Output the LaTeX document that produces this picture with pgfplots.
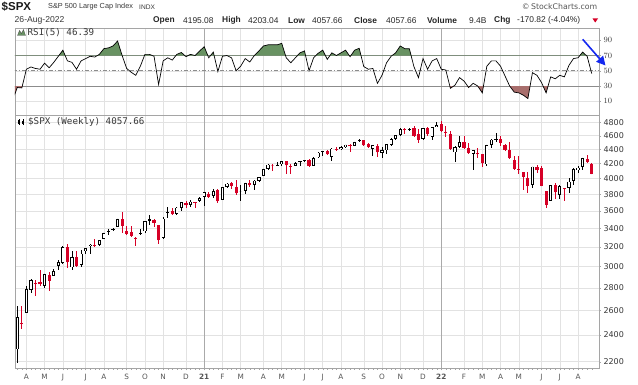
\documentclass[border=0pt]{standalone}
\usepackage{fontspec}
\setmainfont{Liberation Sans}
\newfontfamily\dv{DejaVu Sans}
\newfontfamily\dvm{DejaVu Sans Mono}
\usepackage{pgfplots}
\pgfplotsset{compat=1.18}
\usepackage{pgfplotstable}
\usetikzlibrary{arrows.meta}
\definecolor{cred}{RGB}{214,0,38}
\definecolor{gridc}{RGB}{226,226,226}
\definecolor{yearc}{RGB}{170,170,170}
\definecolor{framec}{RGB}{165,165,165}
\definecolor{refc}{RGB}{140,140,140}
\definecolor{rsig}{RGB}{104,146,98}
\definecolor{rsir}{RGB}{168,110,108}
\definecolor{txt}{RGB}{55,55,55}
\definecolor{txtl}{RGB}{85,85,85}
\definecolor{arrowblue}{RGB}{20,40,240}

\pgfplotstableread{
i O H L C k
0 2290.71 2637.01 2191.86 2541.47 0
1 2498.08 2641.39 2447.49 2488.65 1
2 2578.28 2818.57 2575.00 2789.82 0
3 2782.46 2879.22 2749.00 2874.56 0
4 2845.62 2868.98 2727.10 2836.74 1
5 2854.65 2964.95 2816.00 2830.71 1
6 2815.01 2933.00 2797.85 2929.80 0
7 2915.46 2945.00 2766.64 2863.70 1
8 2913.86 2981.00 2913.86 2955.45 0
9 3004.08 3068.67 2969.95 3044.31 0
10 3038.78 3211.72 3025.84 3193.93 0
11 3199.92 3233.13 2984.47 3041.31 1
12 2993.76 3155.53 2965.66 3097.74 0
13 3094.42 3154.00 3004.63 3009.05 1
14 3018.59 3165.81 3000.07 3130.01 0
15 3155.29 3184.00 3128.00 3185.04 0
16 3205.08 3235.32 3128.00 3224.73 0
17 3224.29 3279.32 3200.00 3215.63 1
18 3219.84 3272.00 3205.00 3271.12 0
19 3288.26 3352.00 3284.53 3351.28 0
20 3356.04 3387.89 3327.00 3372.85 0
21 3380.86 3399.96 3366.00 3397.16 0
22 3419.00 3509.44 3410.00 3508.01 0
23 3507.44 3588.11 3349.63 3426.96 1
24 3371.00 3426.00 3330.00 3340.97 1
25 3364.00 3425.00 3310.00 3319.47 1
26 3285.57 3306.88 3209.45 3298.46 1
27 3336.00 3397.00 3323.00 3348.44 0
28 3367.00 3483.00 3354.00 3477.14 0
29 3500.00 3550.00 3440.00 3483.81 0
30 3493.00 3502.00 3415.00 3465.39 1
31 3441.42 3441.42 3233.94 3269.96 1
32 3296.20 3529.00 3279.74 3509.44 0
33 3583.04 3645.99 3511.91 3585.15 0
34 3600.16 3628.51 3552.00 3557.54 1
35 3566.82 3644.00 3555.00 3638.35 0
36 3634.18 3699.20 3594.00 3699.12 0
37 3694.73 3712.39 3633.00 3663.46 1
38 3675.00 3726.70 3647.00 3709.41 0
39 3694.00 3711.00 3636.48 3703.06 1
40 3723.03 3760.20 3700.00 3756.07 0
41 3764.61 3826.69 3662.71 3824.68 0
42 3803.14 3823.00 3750.00 3768.25 1
43 3782.00 3861.45 3750.00 3841.47 0
44 3851.68 3870.90 3694.12 3714.24 1
45 3731.17 3894.00 3725.00 3886.83 0
46 3892.59 3937.00 3884.00 3934.83 0
47 3940.00 3950.43 3865.00 3906.71 1
48 3886.00 3979.00 3789.00 3811.15 1
49 3842.00 3914.00 3723.34 3841.94 0
50 3844.00 3944.00 3806.00 3943.34 0
51 3943.00 3983.87 3894.00 3913.10 1
52 3917.00 3978.00 3853.00 3974.54 0
53 3969.00 4020.63 3955.00 4019.87 0
54 4034.44 4129.00 4034.44 4128.80 0
55 4125.00 4191.00 4118.00 4185.47 0
56 4180.00 4194.00 4098.00 4180.17 1
57 4185.00 4218.78 4166.00 4181.17 0
58 4192.00 4238.04 4168.00 4232.60 0
59 4229.00 4237.00 4056.88 4173.85 1
60 4169.00 4188.00 4061.41 4155.86 1
61 4171.00 4218.00 4170.00 4204.11 0
62 4217.00 4234.00 4168.00 4229.89 0
63 4229.00 4249.74 4218.00 4247.44 0
64 4249.00 4262.00 4165.00 4166.45 1
65 4173.00 4286.00 4165.00 4280.70 0
66 4285.00 4356.00 4280.00 4352.34 0
67 4356.00 4372.00 4310.00 4369.55 0
68 4373.00 4393.68 4318.00 4327.16 1
69 4297.00 4415.00 4233.13 4411.79 0
70 4409.00 4429.00 4372.00 4395.26 1
71 4407.00 4441.00 4385.00 4436.52 0
72 4437.00 4468.00 4424.00 4468.00 0
73 4462.00 4480.00 4368.00 4441.67 1
74 4450.00 4513.00 4442.00 4509.37 0
75 4514.00 4545.85 4508.00 4535.43 0
76 4535.00 4536.00 4458.00 4458.58 1
77 4474.00 4486.00 4427.00 4432.99 1
78 4403.00 4465.00 4305.91 4455.48 0
79 4450.00 4476.00 4288.52 4357.04 1
80 4348.00 4429.00 4278.94 4391.34 0
81 4386.00 4475.00 4330.00 4471.37 0
82 4464.00 4560.00 4447.00 4544.90 0
83 4553.00 4608.00 4537.00 4605.38 0
84 4610.00 4718.50 4595.00 4697.53 0
85 4701.00 4714.00 4631.00 4682.85 1
86 4689.00 4718.00 4672.00 4697.96 0
87 4712.00 4743.83 4595.00 4594.62 1
88 4628.00 4705.00 4495.12 4538.43 1
89 4549.00 4713.00 4532.00 4712.02 0
90 4710.00 4731.00 4600.00 4620.64 1
91 4588.00 4740.00 4531.00 4725.79 0
92 4733.00 4808.93 4733.00 4766.18 0
93 4778.14 4818.62 4663.00 4677.03 1
94 4655.34 4748.00 4582.24 4662.85 1
95 4633.00 4664.00 4395.00 4397.94 1
96 4356.00 4453.00 4222.62 4431.85 0
97 4432.00 4595.00 4415.00 4500.53 0
98 4505.00 4590.00 4402.00 4418.64 1
99 4412.00 4489.00 4327.00 4348.87 1
100 4332.00 4385.00 4114.65 4384.65 0
101 4354.00 4416.00 4279.00 4328.87 1
102 4328.00 4328.00 4157.00 4204.31 1
103 4188.00 4465.00 4161.00 4463.12 0
104 4462.00 4546.00 4424.00 4543.06 0
105 4541.00 4637.30 4507.00 4545.86 0
106 4547.00 4594.00 4451.00 4488.28 1
107 4462.00 4471.00 4381.00 4392.59 1
108 4385.00 4513.00 4268.00 4271.78 1
109 4256.00 4308.00 4124.00 4131.93 1
110 4130.00 4307.00 4063.00 4123.34 1
111 4081.00 4081.00 3859.00 4023.89 1
112 4013.00 4090.00 3810.32 3901.36 1
113 3920.00 4158.00 3875.00 4158.24 0
114 4151.00 4177.00 4074.00 4108.54 1
115 4134.00 4168.00 3900.86 3900.86 1
116 3838.00 3838.00 3636.87 3674.84 1
117 3715.00 3913.00 3715.00 3911.74 0
118 3920.00 3945.86 3738.67 3825.33 1
119 3792.00 3918.00 3742.00 3899.38 0
120 3880.00 3880.00 3722.00 3863.16 1
121 3883.00 4012.00 3818.00 3961.63 0
122 3966.00 4140.00 3913.00 4130.29 0
123 4113.00 4167.00 4079.00 4145.19 0
124 4156.00 4280.00 4112.00 4280.15 0
125 4270.00 4325.28 4218.00 4228.48 1
126 4195.08 4203.04 4057.66 4057.66 1
}\spx

\pgfplotstableread{
i R
-1 12
0 28
1 27.5
2 52
3 55
4 53
5 52
6 60
7 54
8 61
9 69
10 77
11 63
12 61
13 52
14 63
15 66
16 69
17 68
18 71.5
19 79
20 80
21 82.5
22 89
23 70
24 53
25 48
26 44
27 56
28 71.5
29 71.5
30 69
31 32
32 63
33 67
34 64
35 71.5
36 74
37 68.5
38 71.5
39 70
40 76
41 81.5
42 67
43 74.5
44 49
45 69
46 70
47 67
48 50
49 56
50 66
51 61.5
52 70
53 76
54 82.5
55 84
56 84
57 84
58 86
59 67
60 60.5
61 67
62 73.5
63 76
64 50
65 67
66 73
67 77
68 65
69 73.5
70 70
71 73.5
72 77
73 68.5
74 77
75 79.5
76 55.5
77 52
78 53
79 33.5
80 44
81 60.5
82 69
83 73.5
84 82.5
85 79
86 79
87 55.5
88 41
89 66
90 52
91 63
92 66
93 52
94 51
95 27
96 31
97 41
98 36.5
99 28
100 33.5
101 30
102 21
103 56
104 63
105 63
106 56
107 43
108 30
109 22
110 21
111 18
112 13.5
113 47.5
114 44
115 34.5
116 21
117 42
118 39.5
119 44
120 42
121 57
122 66
123 67
124 74.5
125 69
126 46.39
}\rsi

\pgfplotsset{
  candle/.style={only marks, mark=none, mark size=0pt, restrict x to domain=-5:200,
    error bars/y dir=both, error bars/y explicit,
    error bars/error mark=none,
    error bars/error mark options={draw=none, fill=none, mark size=0pt}},
  samex/.style={xmin=-0.5, xmax=127.6, scale only axis, width=584pt},
  monthgrid/.style={
    samex,
    xtick={2,6,10,15,19,24,28,32,37,45,49,54,58,63,67,71,76,80,84,89,98,102,106,110,115,119,123},
    extra x ticks={41,93},
    extra x tick style={major grid style={yearc, line width=0.8pt}},
    xmajorgrids, ymajorgrids,
    grid style={gridc, line width=0.5pt},
    axis line style={framec, line width=0.6pt},
    yticklabel pos=right, ytick pos=right, xtick pos=bottom,
    tick align=outside, major tick length=2pt, minor tick length=1.2pt,
    tick style={framec, line width=0.4pt},
    yticklabel style={font=\dv\fontsize{8}{9}\selectfont, text=txt, xshift=-1pt},
    xticklabel style={font=\dv\fontsize{7.3}{8}\selectfont, text=txtl},
  }
}

\begin{document}
\begin{tikzpicture}[x=1pt,y=1pt]
\path[use as bounding box] (0,0) rectangle (638,384);

% ---------------- price panel ----------------
\begin{axis}[monthgrid,
  at={(15pt,15.5pt)}, anchor=south west, height=253pt,
  ymode=log, ymin=2152, ymax=4914,
  xticklabels={A,M,J,J,A,S,O,N,D,F,M,A,M,J,J,A,S,O,N,D,F,M,A,M,J,J,A},
  extra x tick labels={\textbf{21},\textbf{22}},
  minor xtick={0,1,...,126},
  ytick={2200,2400,2600,2800,3000,3200,3400,3600,3800,4000,4200,4400,4600,4800},
  yticklabels={2200,2400,2600,2800,3000,3200,3400,3600,3800,4000,4200,4400,4600,4800},
  minor y tick num=0,
]
% wicks
\addplot[candle, error bars/error bar style={line width=0.8pt, draw=black}]
  table[x expr={\thisrow{k}<0.5 ? \thisrow{i} : -100}, y=C,
        y error plus expr={\thisrow{H}-\thisrow{C}},
        y error minus expr={\thisrow{C}-\thisrow{L}}]{\spx};
\addplot[candle, error bars/error bar style={line width=0.8pt, draw=cred}]
  table[x expr={\thisrow{k}>0.5 ? \thisrow{i} : -100}, y=C,
        y error plus expr={\thisrow{H}-\thisrow{C}},
        y error minus expr={\thisrow{C}-\thisrow{L}}]{\spx};
% bodies
\addplot[candle, error bars/error bar style={line width=3.2pt, draw=black}]
  table[x expr={\thisrow{k}<0.5 ? \thisrow{i} : -100}, y=C,
        y error plus expr={max(\thisrow{O}-\thisrow{C},0)},
        y error minus expr={max(\thisrow{C}-\thisrow{O},0)}]{\spx};
\addplot[candle, error bars/error bar style={line width=3.2pt, draw=cred}]
  table[x expr={\thisrow{k}>0.5 ? \thisrow{i} : -100}, y=C,
        y error plus expr={max(\thisrow{O}-\thisrow{C},0)},
        y error minus expr={max(\thisrow{C}-\thisrow{O},0)}]{\spx};
% hollow interiors
\addplot[candle, error bars/error bar style={line width=1.4pt, draw=white}]
  table[x expr={\thisrow{C}>\thisrow{O} ? \thisrow{i} : -100},
        y expr={sqrt(\thisrow{O})*sqrt(\thisrow{C})},
        y error plus expr={max(\thisrow{C}/1.0026 - sqrt(\thisrow{O})*sqrt(\thisrow{C}),0)},
        y error minus expr={max(sqrt(\thisrow{O})*sqrt(\thisrow{C}) - \thisrow{O}*1.0026,0)}]{\spx};
\end{axis}

% ---------------- RSI panel: grid and reference lines ----------------
\begin{axis}[monthgrid,
  at={(15pt,268.5pt)}, anchor=south west, height=87.5pt,
  ymin=-8.7, ymax=106.1,
  xticklabels={}, extra x tick labels={},
  xtick style={draw=none},
  ytick={10,30,50,70,90},
]
\addplot[refc, line width=0.7pt] coordinates {(-1,70) (128,70)};
\addplot[refc, line width=0.7pt] coordinates {(-1,30) (128,30)};
\addplot[refc, line width=0.6pt, dash pattern=on 4pt off 2pt on 1pt off 2pt] coordinates {(-1,50) (128,50)};
\end{axis}

% green fill above 70 (axis clipped to 70..106.1)
\begin{axis}[samex, hide axis,
  at={(15pt,328.48pt)}, anchor=south west, height=27.52pt,
  ymin=70, ymax=106.1]
\addplot[fill=rsig, draw=none] table[x=i, y=R]{\rsi} \closedcycle;
\end{axis}

% red fill below 30 (axis clipped to -8.7..30)
\begin{axis}[samex, hide axis, stack plots=y,
  at={(15pt,268.5pt)}, anchor=south west, height=29.5pt,
  ymin=-8.7, ymax=30]
\addplot[draw=none] table[x=i, y=R]{\rsi};
\addplot[fill=rsir, draw=none] table[x=i, y expr={200-\thisrow{R}}]{\rsi} \closedcycle;
\end{axis}

% RSI line on top
\begin{axis}[samex, hide axis,
  at={(15pt,268.5pt)}, anchor=south west, height=87.5pt,
  ymin=-8.7, ymax=106.1]
\addplot[black, line width=0.7pt] table[x=i, y=R]{\rsi};
\end{axis}

% ---------------- header texts ----------------
\node[anchor=west, inner sep=0, font=\bfseries\fontsize{11.5}{12}\selectfont, text=black!90] at (1.5,377) {\$SPX};
\node[anchor=west, inner sep=0, font=\fontsize{7.3}{9}\selectfont, text=txt] at (48,377) {S\&P 500 Large Cap Index};
\node[anchor=west, inner sep=0, font=\fontsize{6.6}{8}\selectfont, text=txt] at (139,376.7) {INDX};
\node[anchor=west, inner sep=0, font=\fontsize{8.6}{9}\selectfont, text=txt] at (14.5,363.5) {26-Aug-2022};
\begin{scope}[every node/.style={anchor=west, inner sep=0, font=\fontsize{8.4}{9}\selectfont, text=black!85}]
\node at (153,363.5) {\textbf{Open}};
\node at (183,363.5) {4195.08};
\node at (222,363.5) {\textbf{High}};
\node at (248,363.5) {4203.04};
\node at (288,363.5) {\textbf{Low}};
\node at (312,363.5) {4057.66};
\node at (354,363.5) {\textbf{Close}};
\node at (386,363.5) {4057.66};
\node at (427,363.5) {\textbf{Volume}};
\node at (469,363.5) {9.4B};
\node at (494,363.5) {\textbf{Chg}};
\node at (517,363.5) {-170.82 (-4.04\%)};
\end{scope}
\fill[cred] (592.5,365.5) -- (598,365.5) -- (595.25,361.5) -- cycle;
\node[anchor=east, inner sep=0, font=\dv\fontsize{7.8}{9}\selectfont, text=txtl] at (597.5,377) {\textcopyright\,StockCharts.com};

% panel labels with small icons
\fill[rsig, draw=black!70, line width=0.3pt] (17.5,348.5) -- (19.5,353.5) -- (21.5,350.5) -- (23.5,354.5) -- (25.5,348.5) -- cycle;
\node[anchor=west, inner sep=0, font=\dvm\fontsize{9.2}{10}\selectfont, text=txt] at (27.5,351.5) {RSI(5) 46.39};
\draw[black, line width=0.5pt] (19,259.5) -- (19,265.5) (23,259) -- (23,265);
\fill[black] (18,260.5) rectangle (20,264.5);
\fill[black] (22,260) rectangle (24,263.5);
\node[anchor=west, inner sep=0, font=\dvm\fontsize{9.2}{10}\selectfont, text=txt] at (28,262.5) {\$SPX (Weekly) 4057.66};

% blue annotation arrow
\draw[arrowblue, line width=1.6pt, -{Triangle[length=9pt, width=9pt]}] (582.7,344.7) -- (605.5,318.5);
\end{tikzpicture}
\end{document}
